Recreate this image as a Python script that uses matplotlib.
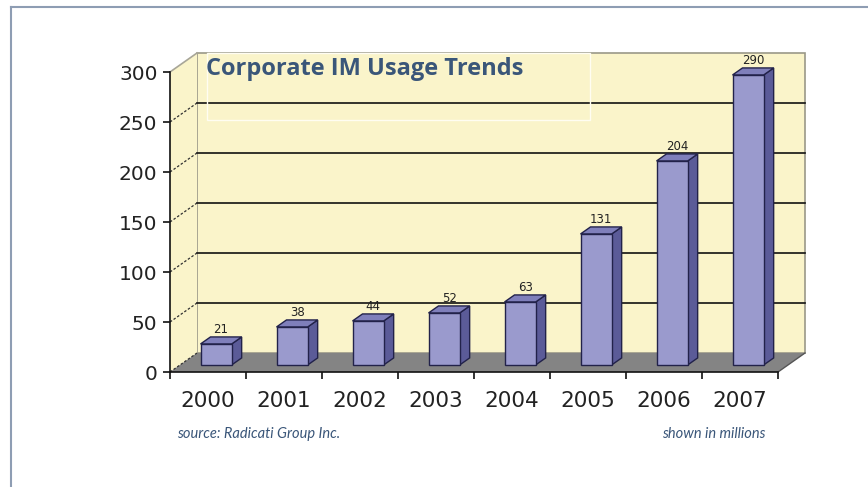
import matplotlib.pyplot as plt
from matplotlib.patches import Polygon, Rectangle
from matplotlib.lines import Line2D

years = ['2000', '2001', '2002', '2003', '2004', '2005', '2006', '2007']
users = [21, 38, 44, 52, 63, 131, 204, 290]
yticks = [0, 50, 100, 150, 200, 250, 300]

title = 'Corporate IM Usage Trends'
source = 'source: Radicati Group Inc.'
units = 'shown in millions'

# fake 3d depth, in data units
DX = 27 / 76
DY = 19
d0, d1 = 0.37, 0.74
bw = 0.41

wall = '#faf4ca'
floor = '#848484'
front_c = '#9a9acd'
side_c = '#5b5b98'
top_c = '#7f7fbb'
edge_c = '#22224a'
blue = '#3a5679'

fig = plt.figure(figsize=(8.68, 4.87), dpi=100)
ax = fig.add_axes([170 / 868, 115 / 487, 608 / 868, 300 / 487])
ax.patch.set_visible(False)
n = len(years)
x_lo, x_hi = -0.5, n - 0.5
y_hi = yticks[-1]
ax.set_xlim(x_lo, x_hi)
ax.set_ylim(0, y_hi)

# walls
ax.add_patch(Rectangle((x_lo + DX, DY), x_hi - x_lo, y_hi, facecolor=wall,
                       edgecolor='#9a9888', lw=1.2, clip_on=False, zorder=0.5))
ax.add_patch(Polygon([(x_lo, 0), (x_lo + DX, DY), (x_lo + DX, y_hi + DY), (x_lo, y_hi)],
                     closed=True, facecolor=wall, edgecolor='none', clip_on=False, zorder=0.5))
ax.plot([x_lo, x_lo + DX], [y_hi, y_hi + DY], color='#a8a698', lw=1.2, clip_on=False, zorder=0.6)

for y in yticks[1:-1]:
    ax.plot([x_lo + DX, x_hi + DX], [y + DY, y + DY], color='#111111', lw=1.2,
            clip_on=False, zorder=1)
for y in yticks[:-1]:
    ax.plot([x_lo, x_lo + DX], [y, y + DY], color='#303030', lw=0.9, ls=(0, (2, 1.5)),
            clip_on=False, zorder=1.6)

# floor
ax.add_patch(Polygon([(x_lo, 0), (x_hi, 0), (x_hi + DX, DY), (x_lo + DX, DY)], closed=True,
                     facecolor=floor, edgecolor='none', clip_on=False, zorder=1.5))
ax.plot([x_hi, x_hi + DX], [0, DY], color='#555555', lw=1, clip_on=False, zorder=1.6)

# bars
for i, v in enumerate(users):
    x0 = i - 0.23 + d0 * DX
    x1 = x0 + bw
    y0 = d0 * DY
    y1 = v + y0
    ddx = (d1 - d0) * DX
    ddy = (d1 - d0) * DY
    ax.add_patch(Polygon([(x1, y0), (x1 + ddx, y0 + ddy), (x1 + ddx, y1 + ddy), (x1, y1)],
                         closed=True, facecolor=side_c, edgecolor=edge_c, lw=1,
                         clip_on=False, zorder=2))
    ax.add_patch(Polygon([(x0, y1), (x1, y1), (x1 + ddx, y1 + ddy), (x0 + ddx, y1 + ddy)],
                         closed=True, facecolor=top_c, edgecolor=edge_c, lw=1,
                         clip_on=False, zorder=2))
    ax.add_patch(Rectangle((x0, y0), bw, v, facecolor=front_c, edgecolor=edge_c, lw=1,
                           clip_on=False, zorder=2.1))
    ax.text((x0 + x1) / 2 + ddx / 2, v + d1 * DY + 1, str(v), ha='center', va='bottom',
            fontsize=8.5, color='#222222', zorder=3)

# axes
for s in ['top', 'right']:
    ax.spines[s].set_visible(False)
for s in ['left', 'bottom']:
    ax.spines[s].set_color('#111111')
    ax.spines[s].set_linewidth(1.2)
    ax.spines[s].set_zorder(3)
ax.set_yticks(yticks)
ax.tick_params(axis='y', direction='out', length=5, width=1.2, pad=4,
               labelsize=14.5, labelcolor='#222222', color='#111111')
ax.set_xticks(range(n))
ax.set_xticklabels(years)
ax.set_xticks([x_lo + k for k in range(n + 1)], minor=True)
ax.tick_params(axis='x', which='major', length=0, pad=14, labelsize=15.5, labelcolor='#222222')
ax.tick_params(axis='x', which='minor', direction='out', length=5, width=1.2, color='#111111')

# title and notes
fig.add_artist(Rectangle((207 / 868, 1 - 120 / 487), 383 / 868, 67 / 487,
                         transform=fig.transFigure, facecolor='none',
                         edgecolor='#fffdf2', lw=1))
fig.text(206 / 868, 1 - 75 / 487, title, fontsize=17, fontweight='bold',
         family='Open Sans', color=blue, va='baseline', ha='left')
fig.text(177 / 868, 1 - 438 / 487, source, fontsize=10.5, style='italic',
         family='Lato', color=blue, va='baseline', ha='left')
fig.text(766 / 868, 1 - 438 / 487, units, fontsize=10.5, style='italic',
         family='Lato', color=blue, va='baseline', ha='right')

# outer frame (left and top edges)
fig.add_artist(Line2D([10.5 / 868, 10.5 / 868], [0, 1 - 7 / 487], transform=fig.transFigure,
                      color='#8e9db3', lw=1.5))
fig.add_artist(Line2D([10.5 / 868, 1], [1 - 7 / 487, 1 - 7 / 487], transform=fig.transFigure,
                      color='#8e9db3', lw=1.5))

fig.savefig('out.png', dpi=100)
